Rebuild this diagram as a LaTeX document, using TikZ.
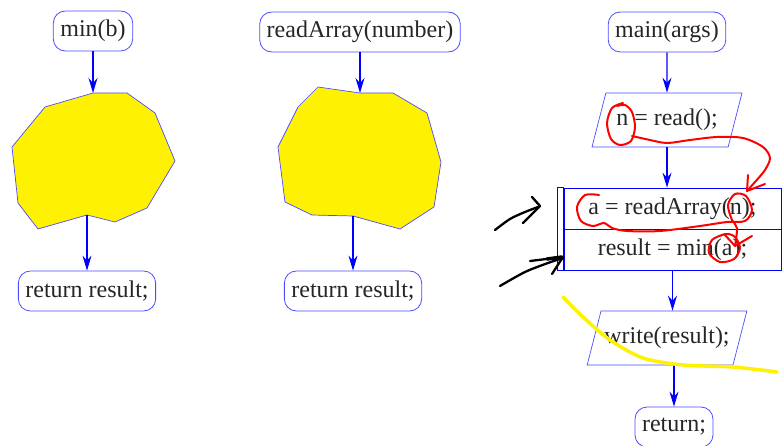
\documentclass[tikz,border=0pt]{standalone}
\usepackage{fontspec}
\setmainfont{Liberation Serif}
\usetikzlibrary{shapes.geometric,arrows.meta}
\colorlet{flowc}{blue}
\colorlet{framec}{blue!70!white}
\newcommand{\bigtxt}{\fontsize{24}{28}\selectfont}
\tikzset{
  term/.style={draw=framec,rounded corners=12pt,line width=.8pt,minimum height=40pt,inner xsep=7pt,font=\bigtxt,text=black!85},
  io/.style={draw=framec,trapezium,trapezium left angle=64,trapezium right angle=116,trapezium stretches body,minimum width=150pt,minimum height=54pt,line width=.7pt,font=\bigtxt,text=black!85},
  stmt/.style={draw=flowc,minimum width=217pt,minimum height=41pt,inner sep=0pt,line width=.7pt,font=\bigtxt,text=black!85},
  arr/.style={->,>={Stealth[length=15pt,width=9pt,inset=5pt]},draw=flowc,line width=1.2pt},
  blob/.style={draw=framec,fill=yellow,line width=.7pt,line join=round},
  pen/.style={line width=2pt,line cap=round,line join=round}
}
\begin{document}
\begin{tikzpicture}[x=1pt,y=-1pt]
  \useasboundingbox (0,0) rectangle (782,446);
  % min(b)
  \node[term] (minb) at (93,31) {min(b)};
  \draw[blob] (93,93) -- (127,93) -- (155,113) -- (175,161) -- (147,208) -- (115,222) -- (87,215) -- (38,229) -- (18,203) -- (12,147) -- (45,107) -- cycle;
  \coordinate (b1top) at (93,93);
  \coordinate (b1bot) at (87,215);
  \node[term] (ret1) at (87,291) {return result;};
  \draw[arr] (minb.south) -- (b1top);
  \draw[arr] (b1bot) -- (ret1.north);
  % readArray(number)
  \node[term] (rdarr) at (360,32) {readArray(number)};
  \draw[blob] (360,93) -- (393,93) -- (427,113) -- (441,162) -- (434,207) -- (400,229) -- (353,216) -- (312,215) -- (285,202) -- (278,147) -- (298,107) -- (318,87) -- cycle;
  \coordinate (b2top) at (360,93);
  \coordinate (b2bot) at (353,216);
  \node[term] (ret2) at (353,291) {return result;};
  \draw[arr] (rdarr.south) -- (b2top);
  \draw[arr] (b2bot) -- (ret2.north);
  % main(args)
  \node[term] (mainargs) at (667,32) {main(args)};
  \node[io] (nread) at (667,120) {n = read();};
  \node[stmt] (aread) at (672.5,208.5) {a = readArray(n);};
  \node[stmt] (resmin) at (672.5,249.5) {result = min(a);};
  \draw[flowc,line width=.7pt] ([xshift=-6pt]aread.north west) rectangle (resmin.south west);
  \node[io] (wres) at (667,338) {write(result);};
  \node[term] (ret3) at (674,427) {return;};
  \draw[arr] (mainargs.south) -- (nread.north);
  \draw[arr] (nread.south) -- (nread.south |- aread.north);
  \draw[arr] (resmin.south) -- (resmin.south |- wres.north);
  \draw[arr] (ret3.north |- wres.south) -- (ret3.north);
  % pen marks
  \draw[pen,red] plot[smooth] coordinates {(623,103)(612,108)(607,123)(611,139)(620,145)(631,141)(635,127)(632,112)(625,105)(617,106)};
  \draw[pen,red] plot[smooth] coordinates {(632,136)(650,140)(667,143)(690,140)(717,137)(743,138)(763,147)(770,158)(765,170)(755,182)(747,191)};
  \draw[pen,red] (748,175) -- (747,191) -- (765,184);
  \draw[pen,red] plot[smooth] coordinates {(599,195)(585,195)(577,207)(581,221)(593,226)(604,223)(612,228)(627,231)(660,231)(700,226)(727,222)(745,221)(752,210)(746,196)(735,194)(728,205)(732,220)(737,228)(735,246)};
  \draw[pen,red] (724,234) -- (735,246) -- (752,236);
  \draw[pen,red] plot[smooth cycle] coordinates {(726,234)(712,240)(709,253)(720,262)(734,259)(740,248)(735,237)};
  \draw[pen,black,line width=2.3pt] plot[smooth] coordinates {(495,230)(510,219)(525,212)(538,207)};
  \draw[pen,black,line width=2.3pt] (532,197) -- (540,206) -- (523,223);
  \draw[pen,black,line width=2.3pt] plot[smooth] coordinates {(500,286)(525,272)(548,263)(563,258)};
  \draw[pen,black,line width=2.3pt] (530,261) -- (563,257) -- (552,274);
  \draw[pen,black,line width=3.5pt] (547,259) -- (562,257);
  \draw[pen,yellow,line width=3.5pt] plot[smooth] coordinates {(563,297)(583,317)(610,340)(643,358)(683,365)(733,367)(777,372)};
\end{tikzpicture}
\end{document}
